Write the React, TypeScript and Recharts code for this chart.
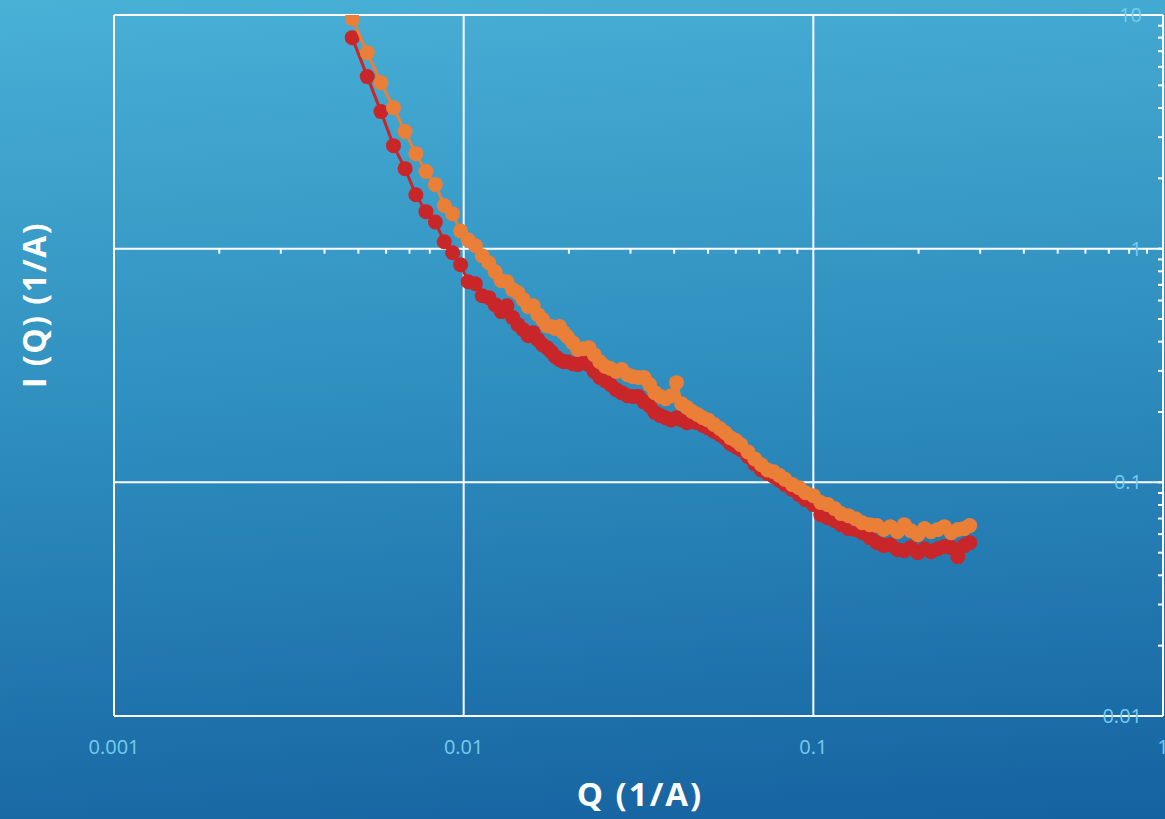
import { ScatterChart, Scatter, XAxis, YAxis, CartesianGrid, ReferenceLine, Label } from 'recharts'

// Q (1/A), shared by both curves
const qValues = [
  0.0048, 0.0053, 0.0058, 0.0063, 0.0068, 0.0073, 0.0078, 0.0083, 0.0088, 0.0093,
  0.0098, 0.0103, 0.0108, 0.0113, 0.0118, 0.0123, 0.0128, 0.0133, 0.0138, 0.0143,
  0.0148, 0.0153, 0.0158, 0.0163, 0.0168, 0.0173, 0.0178, 0.0183, 0.0188, 0.0193,
  0.0198, 0.0205, 0.0212, 0.022, 0.0228, 0.0236, 0.0245, 0.0254, 0.0263, 0.0273,
  0.0283, 0.0294, 0.0305, 0.0316, 0.0328, 0.034, 0.0352, 0.0365, 0.0378, 0.0392,
  0.0406, 0.042, 0.0435, 0.045, 0.0466, 0.0483, 0.05, 0.052, 0.054, 0.056,
  0.058, 0.06, 0.062, 0.065, 0.068, 0.071, 0.074, 0.077, 0.08, 0.083,
  0.087, 0.091, 0.095, 0.1, 0.105, 0.11, 0.115, 0.12, 0.126, 0.132,
  0.138, 0.145, 0.152, 0.159, 0.166, 0.174, 0.182, 0.19, 0.199, 0.208,
  0.217, 0.227, 0.237, 0.248, 0.259, 0.27, 0.28,
]

// I(Q), red curve
const redIntensity = [
  8.0, 5.45, 3.86, 2.76, 2.2, 1.7, 1.44, 1.3, 1.07, 0.961,
  0.854, 0.722, 0.708, 0.629, 0.617, 0.576, 0.538, 0.57, 0.507, 0.473,
  0.45, 0.424, 0.437, 0.408, 0.388, 0.377, 0.362, 0.345, 0.335, 0.328,
  0.328, 0.322, 0.319, 0.325, 0.319, 0.298, 0.281, 0.272, 0.262, 0.249,
  0.242, 0.235, 0.233, 0.233, 0.221, 0.213, 0.199, 0.193, 0.189, 0.185,
  0.189, 0.185, 0.18, 0.182, 0.18, 0.175, 0.171, 0.165, 0.16, 0.154,
  0.146, 0.142, 0.138, 0.129, 0.12, 0.113, 0.109, 0.106, 0.102, 0.0978,
  0.0931, 0.0886, 0.0843, 0.0803, 0.0727, 0.0706, 0.0686, 0.0659, 0.0634, 0.0628,
  0.0609, 0.058, 0.0552, 0.0536, 0.0541, 0.0515, 0.051, 0.0526, 0.05, 0.052,
  0.0505, 0.052, 0.0531, 0.0526, 0.0481, 0.0536, 0.0552,
]

// I(Q), orange curve
const orangeIntensity = [
  9.64, 6.9, 5.13, 4.01, 3.17, 2.55, 2.14, 1.88, 1.53, 1.41,
  1.19, 1.09, 1.03, 0.933, 0.871, 0.797, 0.73, 0.722, 0.668, 0.648,
  0.605, 0.565, 0.57, 0.522, 0.497, 0.468, 0.464, 0.455, 0.464, 0.437,
  0.42, 0.396, 0.37, 0.373, 0.377, 0.352, 0.328, 0.313, 0.307, 0.298,
  0.304, 0.289, 0.283, 0.281, 0.281, 0.262, 0.242, 0.233, 0.228, 0.235,
  0.267, 0.217, 0.209, 0.201, 0.195, 0.189, 0.185, 0.177, 0.17, 0.163,
  0.155, 0.151, 0.145, 0.135, 0.126, 0.119, 0.113, 0.111, 0.107, 0.103,
  0.0978, 0.0949, 0.0903, 0.0877, 0.0819, 0.0803, 0.0772, 0.0735, 0.072, 0.0699,
  0.0672, 0.0659, 0.0653, 0.0628, 0.0646, 0.0615, 0.0659, 0.0621, 0.0597, 0.0634,
  0.0615, 0.0628, 0.0646, 0.0609, 0.0628, 0.0634, 0.0653,
]

const xTicks = [0.001, 0.01, 0.1, 1]
const yTicks = [0.01, 0.1, 1, 10]
const xMinorTicks = [
  0.002, 0.003, 0.004, 0.005, 0.006, 0.007, 0.008, 0.009,
  0.02, 0.03, 0.04, 0.05, 0.06, 0.07, 0.08, 0.09,
  0.2, 0.3, 0.4, 0.5, 0.6, 0.7, 0.8, 0.9,
]
const yMinorTicks = [
  0.02, 0.03, 0.04, 0.05, 0.06, 0.07, 0.08, 0.09,
  0.2, 0.3, 0.4, 0.5, 0.6, 0.7, 0.8, 0.9,
  2, 3, 4, 5, 6, 7, 8, 9,
]

const RED = '#c9262a'
const ORANGE = '#ea7f38'
const TICK_TEXT = '#74cdee'
const FONT = '"Open Sans", Lato, sans-serif'

const redData = qValues.map((q, idx) => ({ q, i: redIntensity[idx] }))
const orangeData = qValues.map((q, idx) => ({ q, i: orangeIntensity[idx] }))
const allYTicks = [...yTicks, ...yMinorTicks].sort((a, b) => a - b)

const dot = (color: string) => (props: any) => (
  <circle cx={props.cx} cy={props.cy} r={7.5} fill={color} />
)

// both axis titles, drawn in plain svg text
const Titles = () => (
  <g>
    <text
      x={640}
      y={806}
      textAnchor="middle"
      fill="#ffffff"
      fontSize={33}
      fontWeight="bold"
      letterSpacing={2}
      fontFamily={FONT}
    >
      Q (1/A)
    </text>
    <text
      x={46}
      y={305}
      transform="rotate(-90 46 305)"
      textAnchor="middle"
      fill="#ffffff"
      fontSize={32}
      fontWeight="bold"
      letterSpacing={1.5}
      fontFamily={FONT}
    >
      I (Q) (1/A)
    </text>
  </g>
)

export default function App() {
  return (
    <div
      style={{
        position: 'absolute',
        left: 0,
        top: 0,
        width: 1165,
        height: 819,
        overflow: 'hidden',
        background: 'linear-gradient(176deg, #49b0d6 0%, #2d8cbd 50%, #1562a0 100%)',
      }}
    >
      <ScatterChart width={1165} height={819} margin={{ top: 15, right: 2, bottom: 0, left: 114 }}>
        <CartesianGrid stroke="#ffffff" strokeWidth={2} horizontal={false} />
        {yTicks.map((t) => (
          <ReferenceLine key={`yg-${t}`} y={t} stroke="#ffffff" strokeWidth={2} />
        ))}
        <XAxis
          dataKey="q"
          type="number"
          scale="log"
          domain={[0.001, 1]}
          ticks={xTicks}
          interval={0}
          allowDataOverflow
          height={103}
          axisLine={{ stroke: '#ffffff', strokeWidth: 2 }}
          tickLine={false}
          tickSize={0}
          tickMargin={24}
          tickFormatter={(v: number) => String(v)}
          tick={{ fill: TICK_TEXT, fontSize: 20, fontFamily: FONT }}
        >
          <Label content={Titles} />
        </XAxis>
        <YAxis
          dataKey="i"
          type="number"
          scale="log"
          orientation="right"
          domain={[0.01, 10]}
          ticks={allYTicks}
          interval={0}
          allowDataOverflow
          mirror
          width={1}
          axisLine={{ stroke: '#ffffff', strokeWidth: 2 }}
          tickLine={{ stroke: '#ffffff', strokeWidth: 2 }}
          tickSize={5}
          tickMargin={16}
          tickFormatter={(v: number) => (yTicks.includes(v) ? String(v) : '')}
          tick={{ fill: TICK_TEXT, fontSize: 20, fontFamily: FONT }}
        />
        {xMinorTicks.map((m) => (
          <ReferenceLine
            key={`xm-${m}`}
            segment={[{ x: m, y: 1 }, { x: m, y: 0.952 }]}
            stroke="#ffffff"
            strokeWidth={2}
          />
        ))}
        <Scatter
          data={redData}
          fill={RED}
          line={{ stroke: RED, strokeWidth: 3 }}
          shape={dot(RED)}
          isAnimationActive={false}
        />
        <Scatter
          data={orangeData}
          fill={ORANGE}
          line={{ stroke: ORANGE, strokeWidth: 3 }}
          shape={dot(ORANGE)}
          isAnimationActive={false}
        />
      </ScatterChart>
    </div>
  )
}
